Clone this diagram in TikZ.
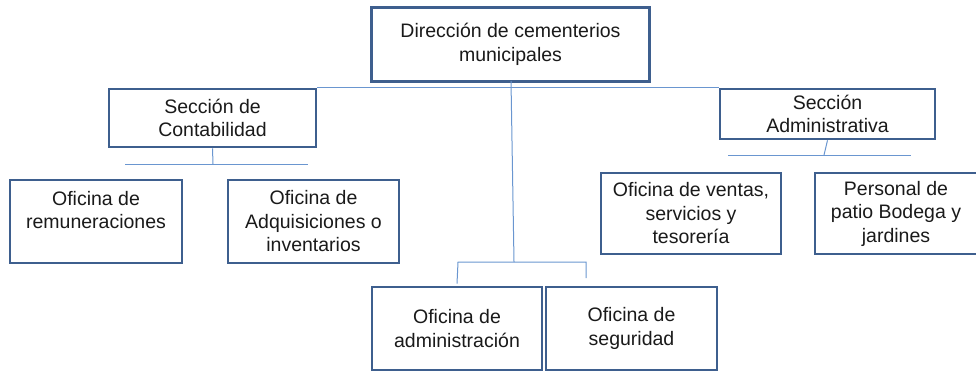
\documentclass[tikz,border=0pt]{standalone}
\usepackage{fontspec}
\setmainfont{Liberation Sans}
\definecolor{boxc}{HTML}{3E5F8E}
\definecolor{linec}{HTML}{6A96D0}
\definecolor{txt}{HTML}{1A1A1A}
\begin{document}
\begin{tikzpicture}[x=1pt,y=-1pt,
  orgbox/.style={draw=boxc,line width=2.6pt,fill=white,inner sep=0pt,align=center,
    text=txt,font=\fontsize{19.5}{23.5}\selectfont},
  conn/.style={draw=linec,line width=1pt}]
\useasboundingbox (0,0) rectangle (976,373);
% boxes
\node[orgbox,minimum width=278pt,minimum height=74pt] (dir) at (510.5,44.5) {Dirección de cementerios\\municipales};
\node[orgbox,minimum width=207pt,minimum height=58pt] (cont) at (212.5,118) {Sección de\\Contabilidad};
\node[orgbox,minimum width=215pt,minimum height=50pt] (adm) at (827.5,114) {Sección\\Administrativa};
\node[orgbox,minimum width=172pt,minimum height=83pt] (rem) at (96,221.5) {Oficina de\\remuneraciones\\\mbox{}};
\node[orgbox,minimum width=171pt,minimum height=83pt] (adq) at (313.5,221.5) {Oficina de\\Adquisiciones o\\inventarios};
\node[orgbox,minimum width=170pt,minimum height=83pt] (oadm) at (457,328.5) {Oficina de\\administración};
\node[orgbox,minimum width=171pt,minimum height=83pt] (seg) at (631.5,328.5) {Oficina de\\seguridad};
\node[orgbox,minimum width=180pt,minimum height=81pt] (ven) at (691,213.5) {Oficina de ventas,\\servicios y\\tesorería};
\node[orgbox,minimum width=162pt,minimum height=81pt] (pat) at (896,213.5) {Personal de\\patio Bodega y\\jardines};
% coordinates
\coordinate (dtop) at (511,81);
\coordinate (dbot) at (514,262);
\coordinate (bl) at (458,262);
\coordinate (br) at (586,262);
\coordinate (brd) at (586,278);
\coordinate (cb) at (213,164);
\coordinate (cl) at (125,164);
\coordinate (cr) at (308,164);
\coordinate (ab) at (824,155);
\coordinate (al) at (728,155);
\coordinate (ar) at (911,155);
% connectors
\draw[conn] (cont.north east) -- (adm.north west);
\draw[conn] (dtop) -- (dbot);
\draw[conn] (oadm.north) ++(0,-2) coordinate (oadmt);
\draw[conn] (oadmt) -- (bl) -- (br) -- (brd);
\draw[conn] (cont.south) -- (cb);
\draw[conn] (cl) -- (cr);
\draw[conn] (adm.south) -- (ab);
\draw[conn] (al) -- (ar);
\end{tikzpicture}
\end{document}
